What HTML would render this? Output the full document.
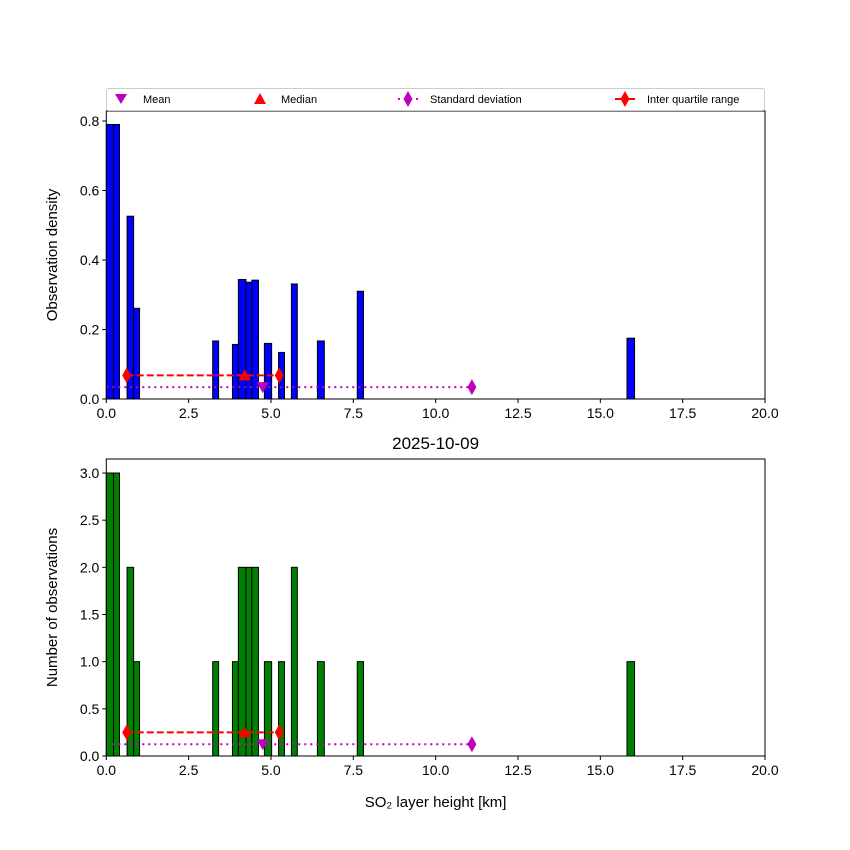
<!DOCTYPE html>
<html><head><meta charset="utf-8"><style>
body{margin:0;background:#fff}
svg{display:block;font-family:"Liberation Sans","DejaVu Sans",sans-serif}
</style></head><body>
<svg id="chart" width="850" height="850"></svg>
<script>
const binLeft=[0.0,0.22,0.63,0.83,3.23,3.83,4.01,4.24,4.42,4.80,5.23,5.62,6.41,7.62,15.81];
const binRight=[0.22,0.40,0.83,1.01,3.41,4.01,4.24,4.42,4.62,5.02,5.41,5.80,6.62,7.81,16.04];
const densityVals=[0.79,0.79,0.526,0.261,0.167,0.157,0.344,0.336,0.342,0.160,0.134,0.331,0.167,0.31,0.175];
const countVals=[3,3,2,1,1,1,2,2,2,1,1,2,1,1,1];
const xTicks=[0,2.5,5,7.5,10,12.5,15,17.5,20];
const xTickLabels=["0.0","2.5","5.0","7.5","10.0","12.5","15.0","17.5","20.0"];
const topYTicks=[0,0.2,0.4,0.6,0.8];
const topYLabels=["0.0","0.2","0.4","0.6","0.8"];
const botYTicks=[0,0.5,1,1.5,2,2.5,3];
const botYLabels=["0.0","0.5","1.0","1.5","2.0","2.5","3.0"];
const statMean=[4.75];
const statMedian=[4.2];
const statIQR=[0.62,5.25];
const statStdEnd=[11.1];
const topStatY=[0.068,0.034];
const botStatY=[0.25,0.125];

const NS="http://www.w3.org/2000/svg";
const svg=document.getElementById('chart');
function mk(tag,attrs,parent){const e=document.createElementNS(NS,tag);for(const k in attrs)e.setAttribute(k,attrs[k]);(parent||svg).appendChild(e);return e;}
const X0=106.3,X1=765;
const xs=v=>X0+(v/20)*(X1-X0);

function panel(name,top,bottom,ymax,vals,color,yt,ytl,ylabel,sy){
  const ys=v=>bottom-(v/ymax)*(bottom-top);
  const g=mk('g',{});
  
  
  for(let i=0;i<vals.length;i++){
    const x=xs(binLeft[i]),w=xs(binRight[i])-x,y=ys(vals[i]);
    const r=mk('rect',{x:x,y:y,width:w,height:bottom-y,fill:color,stroke:'#000','stroke-width':1},g);
    
    
  }
  // std line
  const sl=mk('line',{x1:xs(0),x2:xs(statStdEnd[0]),y1:ys(sy[1]),y2:ys(sy[1]),stroke:'#bf00bf','stroke-width':2,'stroke-dasharray':'2,4'},g);
  
  
  const sd=mk('path',{d:diamond(xs(statStdEnd[0]),ys(sy[1])),fill:'#bf00bf'},g);
  
  
  // IQR
  const il=mk('line',{x1:xs(statIQR[0]),x2:xs(statIQR[1]),y1:ys(sy[0]),y2:ys(sy[0]),stroke:'#f00','stroke-width':2,'stroke-dasharray':'7,3'},g);
  
  
  for(const q of statIQR){
    const d=mk('path',{d:diamond(xs(q),ys(sy[0])),fill:'#f00'},g);
    
    
  }
  const mx=xs(statMedian[0]),my=ys(sy[0]);
  const md=mk('path',{d:`M${mx-6},${my+5}L${mx+6},${my+5}L${mx},${my-6}Z`,fill:'#f00'},g);
  
  
  const ax=xs(statMean[0]),ay=ys(sy[1]);
  const mn=mk('path',{d:`M${ax-6},${ay-5}L${ax+6},${ay-5}L${ax},${ay+6}Z`,fill:'#bf00bf'},g);
  
  
  // frame
  const fr=mk('rect',{x:X0,y:top,width:X1-X0,height:bottom-top,fill:'none',stroke:'#000','stroke-width':1},g);
  
  
  for(let i=0;i<xTicks.length;i++){
    const x=xs(xTicks[i]);
    mk('line',{x1:x,x2:x,y1:bottom,y2:bottom+4,stroke:'#000'},g);
    const t=mk('text',{x:x,y:bottom+19,'text-anchor':'middle','font-size':14},g);
    t.textContent=xTickLabels[i];
    
    
  }
  for(let i=0;i<yt.length;i++){
    const y=ys(yt[i]);
    mk('line',{x1:X0-4,x2:X0,y1:y,y2:y,stroke:'#000'},g);
    const t=mk('text',{x:X0-7,y:y+5,'text-anchor':'end','font-size':14},g);
    t.textContent=ytl[i];
    
    
  }
  const yl=mk('text',{x:0,y:0,'text-anchor':'middle','font-size':15,transform:`translate(57,${(top+bottom)/2}) rotate(-90)`},g);
  yl.textContent=ylabel;
  
  
}
function diamond(x,y){return `M${x},${y-8}L${x+4.5},${y}L${x},${y+8}L${x-4.5},${y}Z`;}

panel('density-panel',111,399,0.8*(288/278),densityVals,'#0000ff',topYTicks,topYLabels,'Observation density',topStatY);
panel('count-panel',459,756,3*(297/283),countVals,'#008000',botYTicks,botYLabels,'Number of observations',botStatY);

// title
const ti=mk('text',{x:435.6,y:449,'text-anchor':'middle','font-size':17});
ti.textContent='2025-10-09';


const xl=mk('text',{x:435.6,y:807,'text-anchor':'middle','font-size':15});
xl.textContent='SO₂ layer height [km]';



// legend
const lg=mk('g',{});


mk('rect',{x:106.5,y:88.5,width:658,height:22,rx:2,fill:'#fff',stroke:'#ccc'},lg);
function ltext(x,s){const t=mk('text',{x:x,y:103,'font-size':11},lg);t.textContent=s;}
mk('path',{d:'M115,94L127,94L121,104Z',fill:'#bf00bf'},lg);ltext(143,'Mean');
mk('path',{d:'M254,104L266,104L260,93Z',fill:'#f00'},lg);ltext(281,'Median');
mk('line',{x1:398,x2:418,y1:99,y2:99,stroke:'#bf00bf','stroke-width':2,'stroke-dasharray':'2,4'},lg);
mk('path',{d:diamond(408,99),fill:'#bf00bf'},lg);ltext(430,'Standard deviation');
mk('line',{x1:615,x2:635,y1:99,y2:99,stroke:'#f00','stroke-width':2},lg);
mk('path',{d:diamond(625,99),fill:'#f00'},lg);ltext(647,'Inter quartile range');
</script>
</body></html>
